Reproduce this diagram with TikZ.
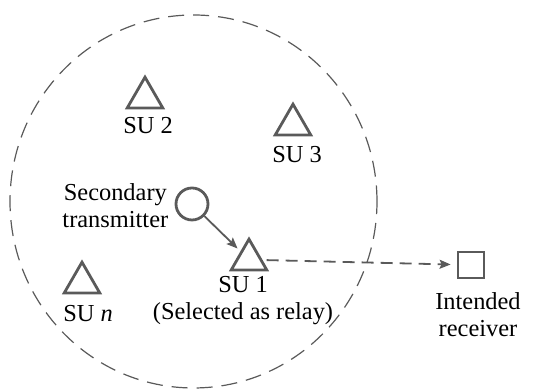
\documentclass[tikz,border=0pt]{standalone}
\usepackage{fontspec}
\setmainfont{Liberation Serif}
\usetikzlibrary{positioning,shapes.geometric,arrows.meta}
\definecolor{linegray}{RGB}{90,90,90}

\begin{document}
\begin{tikzpicture}[x=0.5pt,y=0.5pt,inner sep=1pt,font=\fontsize{12.2}{13.5}\selectfont,
  su/.style={draw=linegray,line width=1.4pt,regular polygon,regular polygon sides=3,minimum size=20.5pt,inner sep=0pt},
  tnode/.style={draw=linegray,line width=1.4pt,circle,minimum size=16pt,inner sep=0pt},
  rnode/.style={draw=linegray,line width=1.4pt,rectangle,minimum size=13pt,inner sep=0pt},
  link/.style={draw=linegray,line width=0.9pt,-{Stealth[length=5.5pt,width=4.5pt,inset=1pt]}}]
\useasboundingbox (0,0) rectangle (538,389);
% coverage area of the secondary transmitter
\draw[linegray,line width=0.6pt,dash pattern=on 8pt off 4.5pt] (193.5,187.5) ellipse [x radius=183.5,y radius=186.5];
\node [tnode] (tx) at (192,185) {};
\node [left=2pt of tx,align=center,yshift=-1pt] (txl) {Secondary\\transmitter};
\node [su] (su2) at (145,291.3) {};
\node [below=3pt of su2,xshift=1.5pt] (su2l) {SU 2};
\node [su] (su3) at (293,264.3) {};
\node [below=4pt of su3,xshift=2pt] (su3l) {SU 3};
\node [su] (su1) at (249,129.3) {};
\node [below=1.5pt of su1,align=center,xshift=-3pt] (su1l) {SU 1\\(Selected as relay)};
\node [su] (sun) at (82,106.3) {};
\node [below=4.5pt of sun,xshift=3pt] (sunl) {SU \textit{n}};
\node [rnode] (rx) at (471,124) {};
\node [below=5.5pt of rx,align=center,xshift=3.5pt] (rxl) {Intended\\receiver};
\draw [link,shorten >=2pt] (tx) -- (su1);
\draw [link,dash pattern=on 6pt off 3.5pt,shorten <=2pt,shorten >=3pt] (su1) -- (rx);
\end{tikzpicture}
\end{document}
